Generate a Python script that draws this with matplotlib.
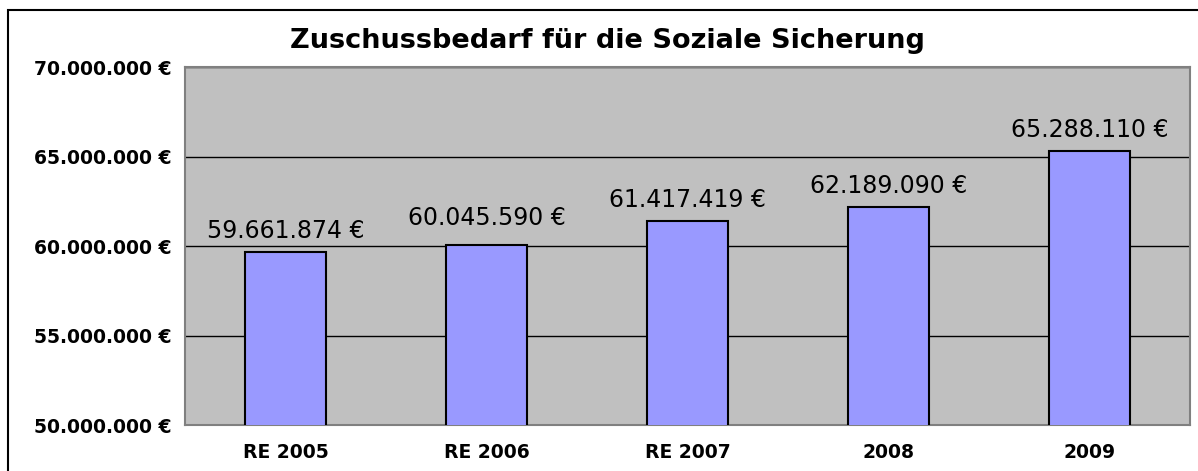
import matplotlib
matplotlib.use("Agg")
import matplotlib.pyplot as plt
from matplotlib.patches import Rectangle
from matplotlib.ticker import FuncFormatter

categories = ["RE 2005", "RE 2006", "RE 2007", "2008", "2009"]
values = [59661874, 60045590, 61417419, 62189090, 65288110]
y_ticks = [50000000, 55000000, 60000000, 65000000, 70000000]
title = "Zuschussbedarf für die Soziale Sicherung"


def euro(v):
    s = f"{int(round(v)):,}".replace(",", ".")
    return s + " €"


W, H = 1198, 471
fig = plt.figure(figsize=(W / 100, H / 100), dpi=100)
fig.patch.set_facecolor("white")

# outer chart border (top/left visible)
fig.patches.append(Rectangle((8 / W, -0.1), 1.2, 1 - 10 / H + 0.1,
                             transform=fig.transFigure, fill=False,
                             edgecolor="black", linewidth=1.5))

left, right, top, bottom = 185, 1190, 67, 425
ax = fig.add_axes([left / W, 1 - bottom / H, (right - left) / W, (bottom - top) / H])
ax.set_facecolor("#C0C0C0")

x = list(range(len(categories)))
bars = ax.bar(x, values, width=0.4, color="#9999FF", edgecolor="black",
              linewidth=1.5, zorder=3)

ax.set_xlim(-0.5, len(categories) - 0.5)
ax.set_ylim(y_ticks[0], y_ticks[-1])
ax.set_yticks(y_ticks)
ax.yaxis.set_major_formatter(FuncFormatter(lambda v, p: euro(v)))
ax.set_xticks(x)
ax.set_xticklabels(categories)
ax.grid(axis="y", color="black", linewidth=1.0, zorder=1)
ax.set_axisbelow(True)

for lbl in ax.get_yticklabels():
    lbl.set_fontweight("bold")
    lbl.set_fontsize(13.5)
for lbl in ax.get_xticklabels():
    lbl.set_fontweight("bold")
    lbl.set_fontsize(13.5)
ax.tick_params(axis="y", length=0, pad=9.5)
ax.tick_params(axis="x", length=0, pad=13)

for s in ax.spines.values():
    s.set_color("#808080")
    s.set_linewidth(1.5)

label_offsets = [10, 14.5, 10, 10, 10]
for xi, v, off in zip(x, values, label_offsets):
    ax.annotate(euro(v), xy=(xi, v), xytext=(0, off), textcoords="offset points",
                ha="center", va="baseline", fontsize=17, color="black")

fig.text(607 / W, 1 - 48 / H, title, ha="center", va="baseline",
         fontsize=19.5, fontweight="bold")

fig.savefig("out.png", dpi=100)
